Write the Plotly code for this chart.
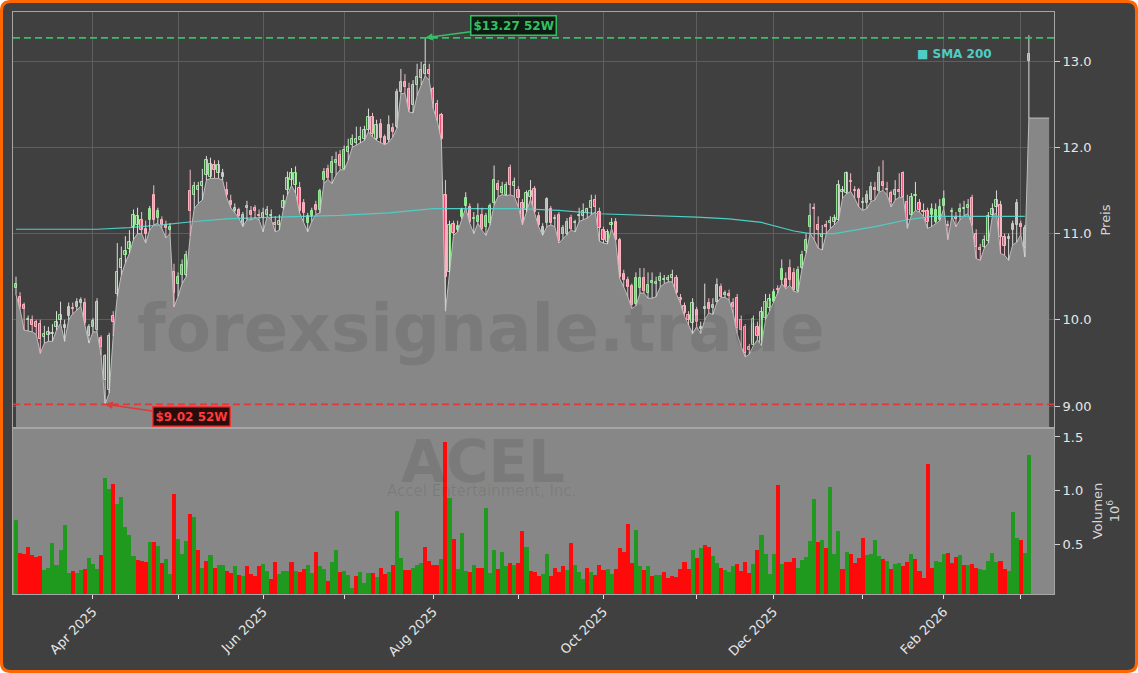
import plotly.graph_objects as go

# ---------------- data (one entry per trading day, 5 Mar 2025 .. 4 Mar 2026) ----------------
opens = [
    10.37, 10.27, 10.17, 10.00, 10.00, 9.98, 9.95, 9.80, 9.82, 9.83,
    9.92, 10.00, 9.91, 10.04, 10.14, 10.15, 10.20, 10.20, 9.81, 9.92,
    9.88, 9.79, 9.30, 9.19, 10.04, 10.30, 10.60, 10.75, 10.82, 11.08,
    11.10, 11.16, 11.05, 11.16, 11.45, 11.18, 11.16, 11.10, 11.04, 10.56,
    10.41, 10.52, 10.52, 11.49, 11.45, 11.50, 11.55, 11.68, 11.66, 11.80,
    11.70, 11.66, 11.51, 11.38, 11.26, 11.27, 11.10, 11.30, 11.26, 11.30,
    11.22, 11.18, 11.22, 11.20, 11.12, 11.10, 11.30, 11.50, 11.62, 11.56,
    11.53, 11.35, 11.12, 11.20, 11.33, 11.27, 11.62, 11.75, 11.70, 11.82,
    11.91, 11.75, 11.95, 12.03, 12.05, 12.08, 12.10, 12.20, 12.35, 12.10,
    12.27, 12.12, 12.08, 12.23, 12.24, 12.64, 12.76, 12.68, 12.49, 12.72,
    12.80, 12.85, 12.90, 12.68, 12.50, 12.38, 11.45, 10.56, 11.11, 11.04,
    11.19, 11.32, 11.31, 11.17, 11.14, 11.21, 11.08, 11.12, 11.35, 11.58,
    11.47, 11.45, 11.76, 11.55, 11.50, 11.35, 11.27, 11.43, 11.52, 11.20,
    11.00, 11.12, 11.29, 11.17, 11.22, 11.00, 11.00, 11.18, 11.12, 11.20,
    11.20, 11.24, 11.30, 11.39, 11.25, 11.04, 10.90, 11.10, 11.14, 10.92,
    10.53, 10.46, 10.39, 10.18, 10.37, 10.48, 10.31, 10.43, 10.42, 10.45,
    10.46, 10.46, 10.48, 10.48, 10.25, 10.16, 10.05, 9.96, 10.11, 9.89,
    10.13, 10.19, 10.14, 10.21, 10.38, 10.29, 10.30, 10.20, 10.25, 10.00,
    9.92, 9.69, 9.71, 9.92, 9.71, 10.02, 10.14, 10.21, 10.36, 10.46,
    10.47, 10.60, 10.54, 10.33, 10.60, 10.80, 11.08, 11.30, 11.10, 10.96,
    11.10, 11.12, 11.14, 11.16, 11.48, 11.47, 11.61, 11.51, 11.50, 11.36,
    11.35, 11.39, 11.53, 11.49, 11.60, 11.52, 11.47, 11.45, 11.50, 11.70,
    11.37, 11.22, 11.44, 11.35, 11.26, 11.26, 11.22, 11.14, 11.16, 11.32,
    11.10, 11.25, 11.19, 11.25, 11.28, 11.30, 11.41, 11.00, 10.83, 10.85,
    10.91, 11.22, 11.31, 11.33, 10.96, 10.94, 11.04, 11.10, 11.11, 10.83,
    13.00,
]
highs = [
    10.50, 10.32, 10.20, 10.05, 10.05, 10.00, 10.00, 9.93, 9.92, 9.95,
    10.10, 10.21, 10.00, 10.20, 10.20, 10.25, 10.26, 10.25, 9.95, 10.02,
    10.25, 9.82, 9.60, 9.85, 10.10, 10.89, 10.85, 10.97, 11.04, 11.28,
    11.30, 11.25, 11.15, 11.32, 11.56, 11.30, 11.20, 11.15, 11.12, 10.65,
    10.55, 10.70, 10.80, 11.74, 11.60, 11.60, 11.75, 11.90, 11.88, 11.85,
    11.85, 11.75, 11.60, 11.45, 11.35, 11.30, 11.25, 11.38, 11.32, 11.33,
    11.28, 11.30, 11.32, 11.28, 11.20, 11.22, 11.45, 11.72, 11.76, 11.78,
    11.60, 11.40, 11.24, 11.30, 11.38, 11.52, 11.76, 11.80, 11.90, 11.95,
    11.97, 12.02, 12.10, 12.15, 12.24, 12.24, 12.25, 12.45, 12.40, 12.32,
    12.33, 12.15, 12.37, 12.28, 12.68, 12.91, 12.85, 12.75, 12.78, 12.97,
    12.99, 13.27, 12.97, 12.70, 12.55, 12.40, 11.62, 11.15, 11.15, 11.15,
    11.30, 11.48, 11.35, 11.25, 11.35, 11.30, 11.24, 11.35, 11.79, 11.62,
    11.60, 11.60, 11.80, 11.65, 11.55, 11.40, 11.50, 11.62, 11.55, 11.25,
    11.12, 11.42, 11.32, 11.22, 11.25, 11.10, 11.18, 11.22, 11.16, 11.30,
    11.35, 11.30, 11.45, 11.45, 11.30, 11.08, 11.05, 11.18, 11.18, 10.95,
    10.58, 10.50, 10.42, 10.55, 10.60, 10.60, 10.55, 10.55, 10.50, 10.55,
    10.52, 10.52, 10.58, 10.52, 10.30, 10.20, 10.10, 10.25, 10.15, 9.98,
    10.42, 10.25, 10.25, 10.48, 10.42, 10.34, 10.35, 10.25, 10.30, 10.05,
    9.95, 9.72, 10.05, 9.98, 10.15, 10.30, 10.30, 10.36, 10.40, 10.70,
    10.55, 10.70, 10.60, 10.62, 10.80, 11.00, 11.35, 11.35, 11.20, 11.10,
    11.15, 11.20, 11.22, 11.62, 11.55, 11.72, 11.70, 11.55, 11.53, 11.42,
    11.50, 11.60, 11.60, 11.78, 11.85, 11.60, 11.50, 11.62, 11.70, 11.72,
    11.45, 11.47, 11.60, 11.40, 11.35, 11.30, 11.35, 11.35, 11.40, 11.50,
    11.15, 11.30, 11.25, 11.35, 11.38, 11.40, 11.45, 11.05, 10.88, 10.98,
    11.25, 11.35, 11.50, 11.38, 11.00, 11.00, 11.15, 11.40, 11.15, 11.10,
    13.30,
]
lows = [
    10.29, 10.12, 9.88, 9.87, 9.86, 9.83, 9.61, 9.73, 9.75, 9.75,
    9.88, 9.96, 9.75, 10.00, 10.07, 10.11, 10.16, 9.94, 9.73, 9.86,
    9.86, 9.59, 9.02, 9.15, 9.81, 10.27, 10.52, 10.66, 10.77, 10.93,
    11.00, 11.00, 10.89, 11.04, 11.10, 11.12, 11.06, 10.95, 11.00, 10.15,
    10.27, 10.42, 10.50, 10.97, 11.29, 11.35, 11.39, 11.62, 11.64, 11.64,
    11.64, 11.62, 11.42, 11.30, 11.24, 11.18, 11.08, 11.16, 11.16, 11.18,
    11.16, 11.02, 11.20, 11.16, 11.02, 11.04, 11.28, 11.45, 11.56, 11.47,
    11.24, 11.14, 11.02, 11.14, 11.22, 11.24, 11.58, 11.63, 11.58, 11.68,
    11.74, 11.74, 11.85, 12.00, 12.03, 12.05, 12.08, 12.18, 12.12, 12.08,
    12.05, 12.03, 12.06, 12.12, 12.22, 12.62, 12.63, 12.41, 12.40, 12.60,
    12.72, 12.83, 12.78, 12.45, 12.30, 12.08, 10.10, 10.55, 10.98, 11.02,
    11.17, 11.30, 11.12, 11.00, 11.12, 11.04, 10.98, 11.10, 11.33, 11.43,
    11.45, 11.44, 11.45, 11.43, 11.31, 11.10, 11.25, 11.40, 11.24, 11.08,
    10.98, 11.08, 11.10, 11.08, 10.89, 10.94, 10.98, 11.04, 11.02, 11.14,
    11.16, 11.18, 11.22, 11.25, 10.91, 10.89, 10.88, 11.06, 10.92, 10.48,
    10.38, 10.27, 10.13, 10.16, 10.31, 10.31, 10.25, 10.25, 10.27, 10.38,
    10.42, 10.44, 10.44, 10.30, 10.19, 10.04, 9.94, 9.84, 9.92, 9.84,
    10.00, 10.08, 10.06, 10.20, 10.26, 10.26, 10.23, 10.08, 9.84, 9.69,
    9.57, 9.60, 9.70, 9.77, 9.70, 10.00, 10.10, 10.20, 10.30, 10.42,
    10.36, 10.40, 10.33, 10.32, 10.59, 10.77, 11.00, 10.93, 10.83, 10.81,
    11.00, 11.06, 11.10, 11.15, 11.41, 11.46, 11.49, 11.41, 11.31, 11.27,
    11.29, 11.37, 11.39, 11.48, 11.50, 11.45, 11.31, 11.39, 11.42, 11.42,
    11.06, 11.21, 11.27, 11.25, 11.20, 11.06, 11.08, 11.12, 11.15, 11.29,
    10.93, 11.20, 11.08, 11.16, 11.21, 11.23, 11.08, 10.71, 10.69, 10.83,
    10.89, 11.21, 11.24, 10.77, 10.75, 10.69, 10.87, 10.90, 10.99, 10.73,
    12.34,
]
closes = [
    10.42, 10.15, 10.13, 10.01, 9.94, 9.92, 9.78, 9.84, 9.86, 9.85,
    9.98, 10.05, 9.94, 10.15, 10.12, 10.21, 10.23, 9.96, 9.92, 9.99,
    10.21, 9.69, 9.58, 9.81, 9.98, 10.55, 10.70, 10.80, 10.90, 11.22,
    11.20, 11.04, 11.00, 11.29, 11.16, 11.26, 11.10, 11.06, 11.08, 10.31,
    10.50, 10.64, 10.75, 11.26, 11.55, 11.55, 11.60, 11.85, 11.81, 11.74,
    11.80, 11.70, 11.45, 11.33, 11.30, 11.20, 11.22, 11.32, 11.22, 11.26,
    11.20, 11.24, 11.27, 11.22, 11.10, 11.15, 11.38, 11.65, 11.70, 11.70,
    11.26, 11.24, 11.20, 11.26, 11.27, 11.49, 11.72, 11.64, 11.83, 11.85,
    11.78, 11.97, 12.00, 12.10, 12.10, 12.12, 12.20, 12.35, 12.16, 12.26,
    12.11, 12.04, 12.26, 12.18, 12.64, 12.76, 12.70, 12.43, 12.72, 12.82,
    12.90, 12.95, 12.85, 12.50, 12.32, 12.10, 10.50, 11.10, 11.01, 11.09,
    11.27, 11.41, 11.14, 11.18, 11.20, 11.05, 11.20, 11.32, 11.62, 11.50,
    11.54, 11.56, 11.56, 11.60, 11.41, 11.12, 11.47, 11.49, 11.25, 11.10,
    11.08, 11.40, 11.12, 11.18, 10.91, 11.06, 11.14, 11.05, 11.13, 11.22,
    11.26, 11.28, 11.38, 11.31, 11.06, 10.93, 11.02, 11.12, 10.93, 10.50,
    10.46, 10.38, 10.17, 10.48, 10.48, 10.33, 10.40, 10.45, 10.44, 10.50,
    10.47, 10.48, 10.52, 10.31, 10.23, 10.08, 10.00, 10.19, 9.98, 9.92,
    10.15, 10.13, 10.17, 10.40, 10.27, 10.31, 10.28, 10.15, 9.90, 9.88,
    9.62, 9.65, 10.01, 9.81, 10.09, 10.21, 10.24, 10.32, 10.34, 10.59,
    10.38, 10.46, 10.35, 10.58, 10.75, 10.92, 11.20, 11.28, 11.04, 11.00,
    11.08, 11.15, 11.18, 11.56, 11.50, 11.70, 11.60, 11.49, 11.41, 11.37,
    11.45, 11.54, 11.51, 11.70, 11.55, 11.50, 11.37, 11.50, 11.48, 11.43,
    11.16, 11.43, 11.45, 11.27, 11.25, 11.13, 11.28, 11.27, 11.31, 11.40,
    11.09, 11.26, 11.17, 11.28, 11.30, 11.33, 11.10, 10.85, 10.81, 10.92,
    11.20, 11.29, 11.39, 10.96, 10.86, 10.96, 11.11, 11.35, 11.08, 11.06,
    13.08,
]
volume_m = [
    0.72, 0.42, 0.41, 0.47, 0.40, 0.38, 0.39, 0.26, 0.28, 0.51,
    0.30, 0.44, 0.68, 0.23, 0.25, 0.23, 0.26, 0.27, 0.37, 0.31,
    0.27, 0.40, 1.12, 1.01, 1.06, 0.87, 0.94, 0.66, 0.58, 0.39,
    0.35, 0.34, 0.33, 0.52, 0.52, 0.48, 0.32, 0.36, 0.22, 0.97,
    0.55, 0.41, 0.53, 0.78, 0.75, 0.44, 0.28, 0.34, 0.40, 0.28,
    0.30, 0.30, 0.25, 0.23, 0.29, 0.21, 0.20, 0.29, 0.22, 0.20,
    0.29, 0.31, 0.25, 0.17, 0.33, 0.22, 0.25, 0.25, 0.33, 0.25,
    0.24, 0.27, 0.30, 0.23, 0.43, 0.29, 0.27, 0.15, 0.33, 0.44,
    0.24, 0.25, 0.21, 0.09, 0.20, 0.24, 0.14, 0.23, 0.23, 0.19,
    0.28, 0.22, 0.24, 0.30, 0.81, 0.37, 0.26, 0.26, 0.28, 0.30,
    0.32, 0.47, 0.34, 0.30, 0.30, 0.36, 1.45, 0.93, 0.55, 0.27,
    0.60, 0.25, 0.24, 0.30, 0.28, 0.28, 0.84, 0.23, 0.44, 0.27,
    0.43, 0.29, 0.32, 0.30, 0.32, 0.62, 0.47, 0.25, 0.24, 0.20,
    0.22, 0.41, 0.20, 0.28, 0.24, 0.29, 0.26, 0.51, 0.30, 0.24,
    0.17, 0.28, 0.24, 0.21, 0.30, 0.26, 0.27, 0.22, 0.27, 0.46,
    0.43, 0.69, 0.32, 0.63, 0.29, 0.26, 0.29, 0.20, 0.21, 0.21,
    0.24, 0.18, 0.20, 0.19, 0.27, 0.33, 0.27, 0.44, 0.37, 0.46,
    0.49, 0.47, 0.39, 0.32, 0.28, 0.26, 0.24, 0.29, 0.31, 0.25,
    0.33, 0.23, 0.31, 0.44, 0.58, 0.41, 0.22, 0.41, 1.05, 0.31,
    0.33, 0.33, 0.37, 0.28, 0.35, 0.38, 0.53, 0.92, 0.52, 0.54,
    0.46, 1.03, 0.41, 0.62, 0.27, 0.43, 0.41, 0.32, 0.37, 0.56,
    0.40, 0.41, 0.54, 0.39, 0.36, 0.34, 0.27, 0.31, 0.32, 0.29,
    0.33, 0.41, 0.36, 0.25, 0.18, 1.25, 0.28, 0.34, 0.33, 0.41,
    0.42, 0.32, 0.38, 0.40, 0.30, 0.30, 0.31, 0.28, 0.27, 0.26,
    0.34, 0.42, 0.33, 0.34, 0.27, 0.25, 0.80, 0.56, 0.54, 0.42,
    1.33,
]
# g = up-volume day, r = down-volume day
volume_dir = (
    "grrrrrrggg" "ggggrggrgg" "grggrggggg" "rrrgrgrggr" "gggrgrgrgr"
    "ggrrgrgrrr" "rggrrgggrg" "rrggrggrgg" "rgggrgggrg" "rrgrggrrgg"
    "grrrrgrgrg" "ggrgrrgggr" "ggrgrrgrrr" "ggrrrrgrgg" "grgrrrggrr"
    "rrrggrgrgg" "rrrrrrrgrg" "rrggrgggrr" "rrgrggggrg" "rrrgggggrg"
    "rgggrgrrrr" "ggggrgrggr" "rgrrrrrggg" "rrrgrgrrgg" "gggrrgggrg"
    "g"
)
sma_idx = [0, 20, 28, 36, 44, 52, 64, 80, 92, 103, 124, 134, 144, 158,
           168, 176, 184, 192, 196, 202, 212, 220, 226, 249]
sma_vals = [11.05, 11.05, 11.07, 11.10, 11.14, 11.17, 11.19, 11.21, 11.24, 11.29,
            11.29, 11.27, 11.23, 11.21, 11.19, 11.17, 11.13, 11.03, 11.00, 11.00,
            11.08, 11.16, 11.20, 11.20]
month_tick_idx = [19, 40, 61, 81, 103, 124, 145, 168, 187, 209, 229, 248]
month_tick_text = ["Apr 2025", "", "Jun 2025", "", "Aug 2025", "", "Oct 2025", "",
                   "Dec 2025", "", "Feb 2026", ""]
price_ticks = [9, 10, 11, 12, 13]
price_tick_text = ["9.00", "10.0", "11.0", "12.0", "13.0"]
vol_ticks = [0.5, 1.0, 1.5]
vol_tick_text = ["0.5", "1.0", "1.5"]
high_52w, high_52w_idx = 13.27, 101
low_52w, low_52w_idx = 9.02, 22
area_pad_days = 5
ticker = "ACEL"
company = "Accel Entertainment, Inc."
watermark = "forexsignale.trade"

# ---------------- styling ----------------
FONT = "DejaVu Sans"
BG = "#404040"
FILL = "#878787"
GRID = "#5e5e5e"
FRAME = "#a6a6a6"
TICKC = "#e6e6e6"
UP_LINE, UP_FILL = "#8fe98f", "rgba(144,238,144,0.22)"
DN_LINE, DN_FILL = "#ffb3c1", "#f0466e"
SMA_C = "#4ecdc4"
GREEN52, RED52 = "#33c163", "#e23838"
W, H = 1138, 673
ML, MR, MT, MB = 13, 84, 12, 79
PW, PH = W - ML - MR, H - MT - MB
VOL_FRAC = 166 / PH

N = len(closes)
idx = list(range(N))
up = [c >= o for o, c in zip(opens, closes)]

fig = go.Figure()

# area under the lows
fig.add_trace(go.Scatter(
    x=idx + [idx[-1] + area_pad_days], y=lows + [lows[-1]],
    mode="lines", line=dict(color="#bdbdbd", width=1),
    fill="tozeroy", fillcolor=FILL, xaxis="x", yaxis="y", hoverinfo="skip"))

# SMA 200
fig.add_trace(go.Scatter(x=sma_idx, y=sma_vals, mode="lines",
                         line=dict(color=SMA_C, width=1.2), xaxis="x", yaxis="y"))

# wicks
for want, col in ((True, "#dcdcdc"), (False, "#f3b9c6")):
    xs, ys = [], []
    for i in idx:
        if up[i] == want:
            xs += [i, i, None]
            ys += [lows[i], highs[i], None]
    fig.add_trace(go.Scatter(x=xs, y=ys, mode="lines", line=dict(color=col, width=1),
                             xaxis="x", yaxis="y", hoverinfo="skip"))

# bodies
for want, lc, fc in ((True, UP_LINE, UP_FILL), (False, DN_LINE, DN_FILL)):
    xs = [i for i in idx if up[i] == want]
    fig.add_trace(go.Bar(
        x=xs, base=[min(opens[i], closes[i]) for i in xs],
        y=[abs(closes[i] - opens[i]) for i in xs],
        width=0.55, marker=dict(color=fc, line=dict(color=lc, width=1)),
        xaxis="x", yaxis="y"))

# volume
fig.add_trace(go.Bar(
    x=idx, y=volume_m, width=1.0,
    marker=dict(color=["#1f9a1f" if d == "g" else "#ff0a0a" for d in volume_dir],
                line=dict(width=0)),
    xaxis="x2", yaxis="y2"))


def px_x(p):
    return (p - ML) / PW


def px_y(p):
    return (MT + PH - p) / PH


# rounded frame
r, e = 9, 1.5
x0, x1, y0, y1 = e, W - e, e, H - e
path = (f"M {px_x(x0 + r)},{px_y(y0)} L {px_x(x1 - r)},{px_y(y0)} "
        f"Q {px_x(x1)},{px_y(y0)} {px_x(x1)},{px_y(y0 + r)} "
        f"L {px_x(x1)},{px_y(y1 - r)} Q {px_x(x1)},{px_y(y1)} {px_x(x1 - r)},{px_y(y1)} "
        f"L {px_x(x0 + r)},{px_y(y1)} Q {px_x(x0)},{px_y(y1)} {px_x(x0)},{px_y(y1 - r)} "
        f"L {px_x(x0)},{px_y(y0 + r)} Q {px_x(x0)},{px_y(y0)} {px_x(x0 + r)},{px_y(y0)} Z")

shapes = [
    dict(type="path", path=path, xref="paper", yref="paper", layer="below",
         fillcolor=BG, line=dict(color="#ff6600", width=3)),
    dict(type="rect", xref="x2 domain", yref="y2 domain", x0=0, x1=1, y0=0, y1=1,
         layer="below", fillcolor=FILL, line=dict(width=0)),
    dict(type="line", xref="x domain", yref="y", x0=0, x1=1, y0=high_52w, y1=high_52w,
         line=dict(color=GREEN52, width=1.8, dash="7px,4px")),
    dict(type="line", xref="x domain", yref="y", x0=0, x1=1, y0=low_52w, y1=low_52w,
         line=dict(color=RED52, width=1.8, dash="7px,4px")),
]

center = dict(xanchor="center", yanchor="middle", showarrow=False,
              xref="paper", yref="paper")
annotations = [
    dict(text=f"<b>{watermark}</b>", x=px_x(481), y=px_y(328),
         font=dict(family=FONT, size=66, color="rgba(0,0,0,0.09)"), **center),
    dict(text=f"<b>{ticker}</b>", x=px_x(483), y=px_y(462),
         font=dict(family=FONT, size=58, color="rgba(0,0,0,0.09)"), **center),
    dict(text=company, x=px_x(481), y=px_y(491),
         font=dict(family=FONT, size=15, color="rgba(0,0,0,0.09)"), **center),
    dict(text=f"<b>${high_52w:.2f} 52W</b>", x=high_52w_idx, y=high_52w, xref="x", yref="y",
         ax=88, ay=-12, showarrow=True, arrowhead=2, arrowsize=1, arrowwidth=1.5,
         arrowcolor=GREEN52, bgcolor="#0e1a12", bordercolor=GREEN52, borderwidth=1.5,
         borderpad=2, font=dict(family=FONT, size=12, color=GREEN52)),
    dict(text=f"<b>${low_52w:.2f} 52W</b>", x=low_52w_idx, y=low_52w, xref="x", yref="y",
         ax=86, ay=12, showarrow=True, arrowhead=2, arrowsize=1, arrowwidth=1.5,
         arrowcolor=RED52, bgcolor="#2a0c0c", bordercolor=RED52, borderwidth=1.5,
         borderpad=2, font=dict(family=FONT, size=12, color="#ff3b3b")),
    dict(text="<b>■ SMA 200</b>", x=px_x(954), y=px_y(54),
         font=dict(family=FONT, size=12, color=SMA_C), **center),
]

xrange = [-0.74, 256.2]
common_x = dict(range=xrange, tickvals=month_tick_idx, showline=True, mirror=True,
                linecolor=FRAME, linewidth=1, zeroline=False)

fig.update_layout(
    width=W, height=H, margin=dict(l=ML, r=MR, t=MT, b=MB),
    paper_bgcolor="white", plot_bgcolor="rgba(0,0,0,0)",
    showlegend=False, barmode="overlay", bargap=0,
    font=dict(family=FONT, size=13, color=TICKC),
    xaxis=dict(domain=[0, 1], anchor="y", ticktext=[""] * len(month_tick_idx),
               showgrid=True, gridcolor=GRID, gridwidth=1, ticks="",
               rangeslider=dict(visible=False), matches="x2", **common_x),
    yaxis=dict(domain=[VOL_FRAC, 1], anchor="x", side="right", range=[8.745, 13.57],
               tickvals=price_ticks, ticktext=price_tick_text, showgrid=True, gridcolor=GRID,
               ticks="outside", ticklen=5, tickcolor="#d0d0d0", showline=True, mirror=True,
               linecolor=FRAME, zeroline=False,
               title=dict(text="Preis", font=dict(size=13, color="#d6d6d6"), standoff=10)),
    xaxis2=dict(domain=[0, 1], anchor="y2", ticktext=month_tick_text, tickangle=-45,
                showgrid=False, ticks="outside", ticklen=4, tickcolor="#e0e0e0",
                tickfont=dict(size=13, color=TICKC), **common_x),
    yaxis2=dict(domain=[0, VOL_FRAC], anchor="x2", side="right", range=[0.033, 1.584],
                tickvals=vol_ticks, ticktext=vol_tick_text, showgrid=False,
                ticks="outside", ticklen=5, tickcolor="#d0d0d0", showline=True, mirror=True,
                linecolor=FRAME, zeroline=False,
                title=dict(text="Volumen<br>10<sup>6</sup>", font=dict(size=13, color="#d6d6d6"),
                           standoff=10)),
    shapes=shapes, annotations=annotations,
)

fig.write_html("out.html", config={"displayModeBar": False},
               post_script="document.body.style.margin='0';document.body.style.padding='0';")
